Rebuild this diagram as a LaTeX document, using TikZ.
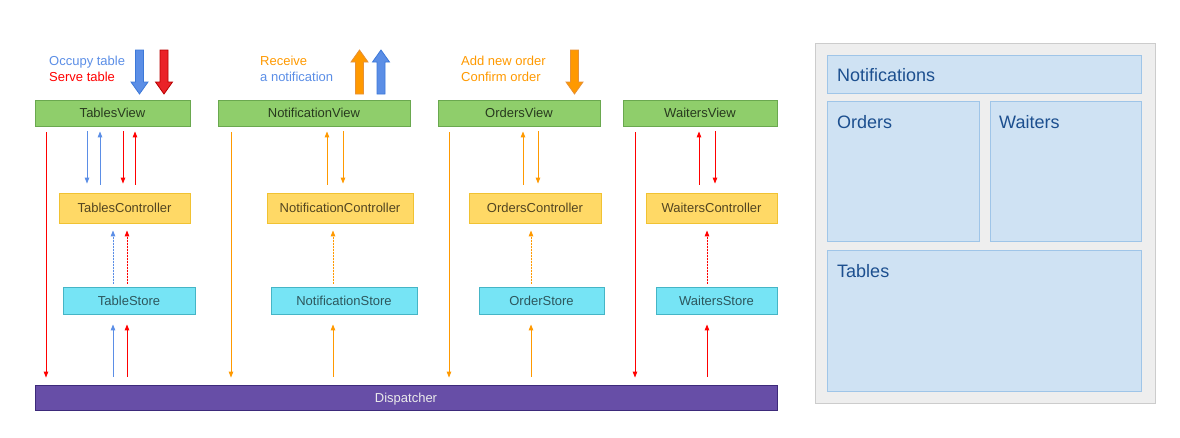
\documentclass[tikz,border=0pt]{standalone}
\usepackage{fontspec}
\setmainfont{Liberation Sans}
\usetikzlibrary{arrows.meta}
\usepackage{xcolor}

\definecolor{viewfill}{HTML}{8FCE6B}
\definecolor{viewline}{HTML}{6AA84F}
\definecolor{ctrlfill}{HTML}{FFD966}
\definecolor{ctrlline}{HTML}{F1C232}
\definecolor{storefill}{HTML}{76E4F5}
\definecolor{storeline}{HTML}{45B5C6}
\definecolor{dispfill}{HTML}{674EA7}
\definecolor{displine}{HTML}{3D2A7A}
\definecolor{fblue}{HTML}{5B8EE6}
\definecolor{fred}{HTML}{FF0000}
\definecolor{forange}{HTML}{FF9900}
\definecolor{bblueline}{HTML}{3C78D8}
\definecolor{bredfill}{HTML}{EA2228}
\definecolor{bredline}{HTML}{B80000}
\definecolor{borangeline}{HTML}{E69138}
\definecolor{panelfill}{HTML}{EEEEEE}
\definecolor{panelline}{HTML}{CCCCCC}
\definecolor{areafill}{HTML}{CFE2F3}
\definecolor{arealine}{HTML}{9FC5E8}
\definecolor{areatext}{HTML}{1C4F8F}

\tikzset{
    small/.style={font=\fontsize{13}{15}\selectfont, text height=9.3pt, text depth=0pt},
    box/.style={small, inner sep=0pt, line width=0.8pt},
    view/.style={box, draw=viewline, fill=viewfill, text=black!72!viewfill, minimum height=26pt},
    ctrl/.style={box, draw=ctrlline, fill=ctrlfill, text=black!68!ctrlfill, minimum height=30pt},
    store/.style={box, draw=storeline, fill=storefill, text=black!62!storefill, minimum height=27pt},
    disp/.style={box, draw=displine, fill=dispfill, text=white!92!black, minimum height=25pt},
    label/.style={small, anchor=west, inner sep=0pt},
    arr/.style={line width=1pt, -{Triangle[length=6pt,width=4.5pt]}},
    dots/.style={arr, dash pattern=on 1.2pt off 1.8pt},
    area/.style={draw=arealine, fill=areafill, line width=0.8pt},
    areaname/.style={font=\fontsize{18}{20}\selectfont, text height=12.9pt, text depth=0pt, text=areatext, anchor=west, inner sep=0pt},
    downblock/.pic={\path[pic actions] (-4,0) -- (4,0) -- (4,32) -- (8.5,32) -- (0,44) -- (-8.5,32) -- (-4,32) -- cycle;},
    upblock/.pic={\path[pic actions] (-4,44) -- (4,44) -- (4,12) -- (8.5,12) -- (0,0) -- (-8.5,12) -- (-4,12) -- cycle;}
}

\begin{document}
\begin{tikzpicture}[x=1pt, y=-1pt]
    \useasboundingbox (0,0) rectangle (1180,437);

    % views
    \node[view, minimum width=155] (tv) at (112.5,113) {TablesView};
    \node[view, minimum width=192] (nv) at (314,113) {NotificationView};
    \node[view, minimum width=162] (ov) at (519,113) {OrdersView};
    \node[view, minimum width=154] (wv) at (700,113) {WaitersView};

    % controllers
    \node[ctrl, minimum width=131] (tc) at (124.5,208) {TablesController};
    \node[ctrl, minimum width=146] (nc) at (340,208) {NotificationController};
    \node[ctrl, minimum width=132] (oc) at (535,208) {OrdersController};
    \node[ctrl, minimum width=131] (wc) at (711.5,208) {WaitersController};

    % stores
    \node[store, minimum width=132] (ts) at (129,300.5) {TableStore};
    \node[store, minimum width=146] (ns) at (344,300.5) {NotificationStore};
    \node[store, minimum width=125] (os) at (541.5,300.5) {OrderStore};
    \node[store, minimum width=121] (ws) at (716.5,300.5) {WaitersStore};

    \node[disp, minimum width=742] (dp) at (406,397.5) {Dispatcher};

    % actions
    \node[label, text=fblue] (occupy) at (49,60.5) {Occupy table};
    \node[label, text=fred] (serve) at (49,76.5) {Serve table};
    \node[label, text=forange] (receive) at (260,60.5) {Receive};
    \node[label, text=fblue] (notify) at (260,76.5) {a notification};
    \node[label, text=forange] (addorder) at (461,60.5) {Add new order};
    \node[label, text=forange] (confirm) at (461,76.5) {Confirm order};

    \pic[fill=fblue, draw=bblueline, line width=0.8pt] at (139.5,50) {downblock};
    \pic[fill=bredfill, draw=bredline, line width=0.8pt] at (164,50) {downblock};
    \pic[fill=forange, draw=borangeline, line width=0.8pt] at (359.5,50) {upblock};
    \pic[fill=fblue, draw=bblueline, line width=0.8pt] at (381,50) {upblock};
    \pic[fill=forange, draw=borangeline, line width=0.8pt] at (574.5,50) {downblock};

    % view -> dispatcher
    \foreach \x/\col/\v in {46/fred/tv, 231/forange/nv, 449/forange/ov, 635/fred/wv} {
            \draw[arr, draw=\col, fill=\col, shorten <=6pt, shorten >=7pt] (\x,0 |- \v.south) -- (\x,0 |- dp.north);
        }

    % view -> controller
    \foreach \x/\col/\v/\k in {87/fblue/tv/tc, 123/fred/tv/tc, 343/forange/nv/nc, 538/forange/ov/oc, 715/fred/wv/wc} {
            \draw[arr, draw=\col, fill=\col, shorten <=5pt, shorten >=9pt] (\x,0 |- \v.south) -- (\x,0 |- \k.north);
        }

    % controller -> view
    \foreach \x/\col/\v/\k in {100/fblue/tv/tc, 135/fred/tv/tc, 327/forange/nv/nc, 523/forange/ov/oc, 699/fred/wv/wc} {
            \draw[arr, draw=\col, fill=\col, shorten <=8pt, shorten >=5pt] (\x,0 |- \k.north) -- (\x,0 |- \v.south);
        }

    % store -> controller, dispatcher -> store
    \foreach \x/\col/\s/\k in {113/fblue/ts/tc, 127/fred/ts/tc, 333/forange/ns/nc, 531/forange/os/oc, 707/fred/ws/wc} {
            \draw[dots, draw=\col, fill=\col, shorten <=3pt, shorten >=7pt] (\x,0 |- \s.north) -- (\x,0 |- \k.south);
            \draw[arr, draw=\col, fill=\col, shorten <=8pt, shorten >=10pt] (\x,0 |- dp.north) -- (\x,0 |- \s.south);
        }

    % screen layout
    \draw[draw=panelline, fill=panelfill, line width=0.8pt] (815,43) rectangle (1155,403);
    \draw[area] (827,55) rectangle (1141,93);
    \draw[area] (827,101) rectangle (979,241);
    \draw[area] (990,101) rectangle (1141,241);
    \draw[area] (827,250) rectangle (1141,391);
    \node[areaname] (notifications) at (837,75) {Notifications};
    \node[areaname] (orders) at (837,122) {Orders};
    \node[areaname] (waiters) at (999,122) {Waiters};
    \node[areaname] (tables) at (837,271) {Tables};

\end{tikzpicture}
\end{document}
